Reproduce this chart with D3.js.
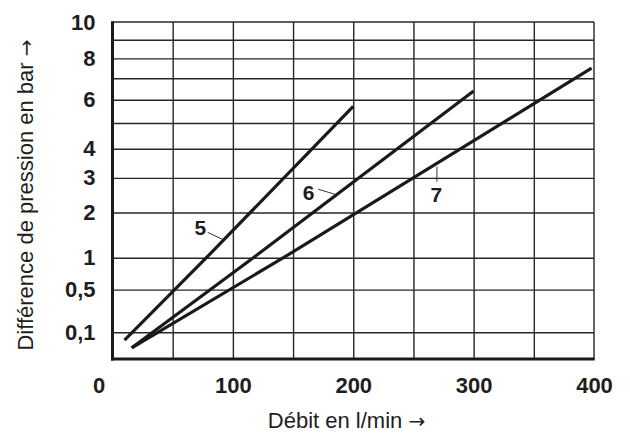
<!DOCTYPE html>
<html>
<head>
<meta charset="utf-8">
<script src="https://cdn.jsdelivr.net/npm/d3@7"></script>
<style>
  body { margin: 0; background: #fff; }
  text { font-family: "Liberation Sans", Arial, sans-serif; fill: #1e1e1e; }
</style>
</head>
<body>
<div id="chart"></div>
<script>
// axis ticks
const xTicks = [0, 100, 200, 300, 400]
const xGrid = [50, 100, 150, 200, 250, 300, 350]
const yTicks = [0.1, 0.5, 1, 2, 3, 4, 6, 8, 10]
const yGrid = [0.1, 0.5, 1, 2, 3, 4, 5, 6, 7, 8, 9]
const yFloor = 0.005

// curves: [Débit l/min, Δp bar]
const curve5 = [[10, 0.06], [78, 1], [200, 5.7]]
const curve6 = [[16, 0.03], [117, 1], [300, 6.4]]
const curve7 = [[16, 0.03], [142, 1], [398, 7.5]]
const curves = [curve5, curve6, curve7]

// curve labels with leader lines [x, y] in data units
const labelNames = ['5', '6', '7']
const labelAt = [[73, 1.63], [163, 2.54], [269, 2.48]]
const leaders = [
  [[79, 1.52], [91, 1.37]],
  [[171, 2.65], [185, 2.5]],
  [[269.5, 3.37], [269.5, 2.88]]
]

const W = 630, H = 436
const margin = { top: 22, right: 36, bottom: 77, left: 112.5 }
const w = W - margin.left - margin.right
const h = H - margin.top - margin.bottom

const svg = d3.select('#chart').append('svg').attr('width', W).attr('height', H)
const g = svg.append('g').attr('transform', `translate(${margin.left},${margin.top})`)

const x = d3.scaleLinear().domain([0, 400]).range([0, w])
const y = d3.scaleSqrt().domain([yFloor, 10]).range([h, 0])

// grid
g.append('g').attr('transform', `translate(0,${h})`)
  .call(d3.axisBottom(x).tickValues(xGrid).tickSize(-h).tickFormat(''))
  .call(a => a.select('.domain').remove())
  .selectAll('line').attr('stroke', '#262626').attr('stroke-width', 1.4)
g.append('g')
  .call(d3.axisLeft(y).tickValues(yGrid).tickSize(-w).tickFormat(''))
  .call(a => a.select('.domain').remove())
  .selectAll('line').attr('stroke', '#262626').attr('stroke-width', 1.4)

// frame: thin top/right, thick left/bottom
g.append('line').attr('x1', 0).attr('x2', x(400)).attr('y1', y(10)).attr('y2', y(10))
  .attr('stroke', '#262626').attr('stroke-width', 1.4)
g.append('line').attr('x1', x(400)).attr('x2', x(400)).attr('y1', y(10)).attr('y2', y(yFloor))
  .attr('stroke', '#262626').attr('stroke-width', 1.4)
g.append('line').attr('x1', 0).attr('x2', 0).attr('y1', y(10) - 0.7).attr('y2', y(yFloor) + 1.5)
  .attr('stroke', '#1a1a1a').attr('stroke-width', 3)
g.append('line').attr('x1', -1.5).attr('x2', x(400) + 0.7).attr('y1', y(yFloor)).attr('y2', y(yFloor))
  .attr('stroke', '#1a1a1a').attr('stroke-width', 3)

// tick labels
const xAxis = g.append('g').attr('transform', `translate(0,${h})`)
  .call(d3.axisBottom(x).tickValues(xTicks).tickSize(0).tickPadding(18).tickFormat(d3.format('d')))
xAxis.select('.domain').remove()
xAxis.selectAll('text')
  .attr('font-size', 22).attr('font-weight', 'bold').attr('font-family', null)
  .attr('dx', d => d === 0 ? -14 : 0)

const yAxis = g.append('g')
  .call(d3.axisLeft(y).tickValues(yTicks).tickSize(0).tickPadding(17)
    .tickFormat(d => String(d).replace('.', ',')))
yAxis.select('.domain').remove()
yAxis.selectAll('text').attr('font-size', 22).attr('font-weight', 'bold').attr('font-family', null)

// curves
const line = d3.line().x(d => x(d[0])).y(d => y(d[1]))
g.selectAll('.curve')
  .data(curves)
  .join('path')
  .attr('class', 'curve')
  .attr('fill', 'none')
  .attr('stroke', '#1a1a1a')
  .attr('stroke-width', 3.2)
  .attr('d', line)

// labels + leader lines
g.selectAll('.leader')
  .data(leaders)
  .join('line')
  .attr('class', 'leader')
  .attr('x1', d => x(d[0][0])).attr('y1', d => y(d[0][1]))
  .attr('x2', d => x(d[1][0])).attr('y2', d => y(d[1][1]))
  .attr('stroke', '#333').attr('stroke-width', 1)
g.selectAll('.clabel')
  .data(labelNames)
  .join('text')
  .attr('class', 'clabel')
  .attr('x', (d, i) => x(labelAt[i][0]))
  .attr('y', (d, i) => y(labelAt[i][1]))
  .attr('dy', '0.35em')
  .attr('text-anchor', 'middle')
  .attr('font-size', 21)
  .attr('font-weight', 'bold')
  .text(d => d)

// axis titles (arrow from DejaVu, Liberation's is tiny)
const xTitle = svg.append('text')
  .attr('x', 346.5).attr('y', 428)
  .attr('text-anchor', 'middle')
  .attr('font-size', 22)
xTitle.append('tspan').text('Débit en l/min ')
xTitle.append('tspan').style('font-family', '"DejaVu Sans"').attr('font-size', 20).text('→')

const yTitle = svg.append('text')
  .attr('transform', 'translate(33,195) rotate(-90)')
  .attr('text-anchor', 'middle')
  .attr('font-size', 22)
yTitle.append('tspan').text('Différence de pression en bar ')
yTitle.append('tspan').style('font-family', '"DejaVu Sans"').attr('font-size', 20).text('→')
</script>
</body>
</html>
